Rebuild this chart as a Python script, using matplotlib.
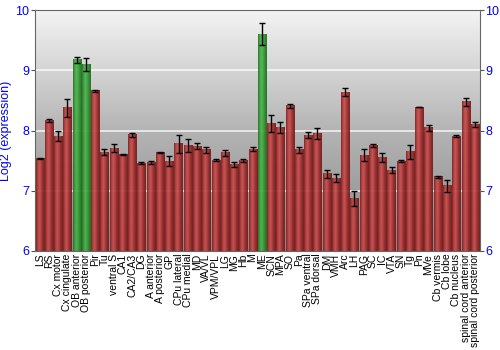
import numpy as np
import matplotlib.pyplot as plt
from matplotlib.colors import LinearSegmentedColormap

plt.rcParams['font.family'] = ['Liberation Sans', 'DejaVu Sans']

regions = ["LS", "RS", "Cx motor", "Cx cingulate", "OB anterior", "OB posterior",
           "Pir", "Tu", "ventral S", "CA1", "CA2/CA3", "DG", "A anterior",
           "A posterior", "GP", "CPu lateral", "CPu medial", "MD", "VA/VL",
           "VPM/VPL", "LG", "MG", "Hb", "M", "ME", "SCN", "MPA", "SO", "Pa",
           "SPa ventral", "SPa dorsal", "DM", "VMH", "Arc", "LH", "PAG", "SC",
           "IC", "VTA", "SN", "Tg", "Pn", "MVe", "Cb vermis", "Cb lobe",
           "Cb nucleus", "spinal cord anterior", "spinal cord posterior"]
expr = [7.54, 8.17, 7.91, 8.38, 9.18, 9.10, 8.66, 7.64, 7.71, 7.60, 7.93, 7.46,
        7.47, 7.63, 7.49, 7.78, 7.75, 7.74, 7.68, 7.51, 7.63, 7.43, 7.50, 7.69,
        9.60, 8.12, 8.05, 8.41, 7.68, 7.92, 7.95, 7.28, 7.21, 8.64, 6.87, 7.59,
        7.75, 7.55, 7.34, 7.49, 7.65, 8.39, 8.05, 7.23, 7.08, 7.91, 8.48, 8.10]
err = [0.01, 0.03, 0.09, 0.15, 0.05, 0.11, 0.02, 0.05, 0.07, 0.01, 0.03, 0.01,
       0.03, 0.01, 0.08, 0.15, 0.11, 0.05, 0.05, 0.01, 0.05, 0.04, 0.02, 0.03,
       0.18, 0.14, 0.09, 0.035, 0.05, 0.05, 0.09, 0.06, 0.065, 0.06, 0.125, 0.1,
       0.02, 0.07, 0.05, 0.02, 0.115, 0.005, 0.05, 0.01, 0.095, 0.01, 0.065, 0.045]
highlight = ["OB anterior", "OB posterior", "ME"]

red_cm = LinearSegmentedColormap.from_list("r", ["#7a1c1c", "#b83a3a", "#c85050", "#b03434", "#8a2222", "#6e1818"])
green_cm = LinearSegmentedColormap.from_list("g", ["#1f6e1f", "#3aa03a", "#4cb44c", "#36a036", "#268226", "#1c661c"])

fig = plt.figure(figsize=(5, 3.5), dpi=100)
ax = fig.add_axes([0.07, 0.283, 0.889, 0.688])

n = len(regions)
x = np.arange(n)
ax.set_xlim(-0.5, n - 0.5)
ax.set_ylim(6, 10)

# background gradient
bg = LinearSegmentedColormap.from_list("bg", ["#888888", "#b4b4b4", "#f4f4f4"])
grad = np.linspace(0, 1, 256).reshape(-1, 1)
ax.imshow(grad, cmap=bg, origin="lower", aspect="auto",
          extent=[-0.5, n - 0.5, 6, 10], zorder=0)
for g in [7, 8, 9]:
    ax.axhline(g, color="white", lw=1.2, alpha=0.8, zorder=1)

w = 0.88
hgrad = np.linspace(0, 1, 64).reshape(1, -1)
for i in range(n):
    cm = green_cm if regions[i] in highlight else red_cm
    ax.imshow(hgrad, cmap=cm, aspect="auto", alpha=0.92,
              extent=[x[i] - w / 2, x[i] + w / 2, 6, expr[i]], zorder=2)
ax.errorbar(x, expr, yerr=err, fmt="none", ecolor="black", elinewidth=1,
            capsize=2, capthick=1, zorder=3)

ax.set_xticks(x)
ax.set_xticklabels(regions, rotation=90, fontsize=7.5)
ax.tick_params(axis="x", length=0, pad=2)
ax.set_yticks([6, 7, 8, 9, 10])
ax.tick_params(axis="y", colors="#555555", labelcolor="blue", labelsize=9,
               direction="out", length=3, pad=1, left=True, right=True,
               labelleft=True, labelright=True)
ax.set_ylabel("Log2 (expression)", color="blue", fontsize=9)
ax.yaxis.set_label_coords(-0.052, 0.5)
for s in ax.spines.values():
    s.set_color("#666666")

fig.savefig("out.png", dpi=100)
